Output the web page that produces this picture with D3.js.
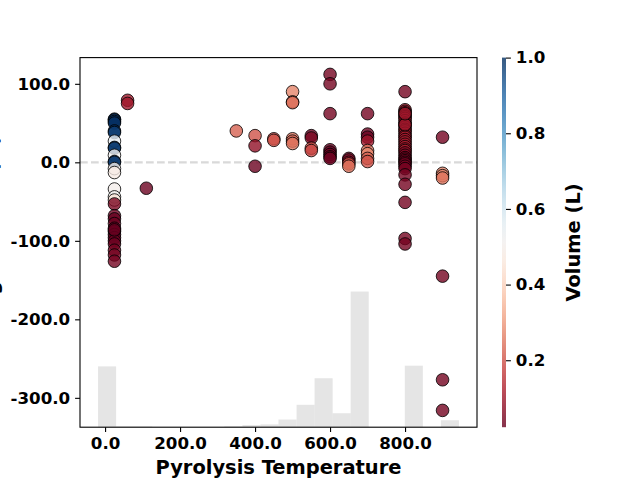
<!DOCTYPE html>
<html lang="en">
<head>
<meta charset="utf-8">
<title>Pyrolysis Temperature</title>
<script src="https://d3js.org/d3.v7.min.js"></script>
<style>
  body { margin: 0; background: #fff; }
  text { font-family: "DejaVu Sans", sans-serif; font-weight: bold; fill: #000; }
</style>
</head>
<body>
<div id="my_dataviz"></div>
<script>

// values
const temps = [
  25, 25, 25, 25, 25, 25, 25, 25, 25, 25, 25, 25, 25, 25, 25, 25, 25, 25, 25, 25, 25, 25, 25, 25, 25, 25, 25, 25, 25, 25, 25,
  60, 60, 110, 350, 400, 400, 400, 450, 450,
  500, 500, 500, 500, 500, 500,
  550, 550, 550, 550,
  600, 600, 600, 600, 600, 600, 600, 600,
  650, 650, 650, 650, 650,
  700, 700, 700, 700, 700, 700, 700, 700,
  800, 800, 800, 800, 800, 800, 800, 800, 800, 800, 800, 800, 800, 800, 800, 800, 800, 800, 800, 800, 800, 800,
  800, 800, 800, 800, 800, 800, 800, 800, 800, 800, 800, 800, 800, 800, 800, 800,
  900, 900, 900, 900, 900, 900, 900
];
const changes = [
  55, 54, 52, 50, 40, 38, 27, 19, 18, 9, 1, 0, -8, -13, -34, -44, -48, -53, -68, -72, -78, -84, -88, -92, -96, -100, -104, -112, -118, -126, -86,
  79, 75, -33, 40, 34, 21, -5, 30, 28,
  90, 77, 76, 30, 27, 24,
  34, 31, 18, 15,
  112, 100, 62, 16, 13, 10, 7, 5,
  5, 3, 0, -2, -5,
  62, 36, 32, 27, 15, 11, 5, 1,
  90, 67, 65, 63, 60, 58, 56, 53, 50, 48, 45, 42, 40, 37, 34, 32, 29, 26, 23, 20, 17, 15,
  12, 9, 6, 4, 2, 0, -2, -5, -8, -16, -28, -51, -97, -104, 48, 62,
  32, -14, -17, -20, -145, -277, -316
];
const volumes = [
  1.0, 1.0, 1.0, 1.0, 1.0, 0.98, 0.55, 1.0, 0.98, 0.52, 1.0, 0.98, 0.5, 0.48, 0.5, 0.52, 0.45, 0.05, 0.03, 0.023, 0.03, 0.023, 0.03, 0.023, 0.03, 0.023, 0.03, 0.04, 0.04, 0.04, 0.023,
  0.1, 0.1, 0.03, 0.22, 0.2, 0.08, 0.03, 0.18, 0.2,
  0.27, 0.24, 0.24, 0.25, 0.22, 0.25,
  0.03, 0.05, 0.2, 0.18,
  0.04, 0.04, 0.04, 0.03, 0.023, 0.03, 0.023, 0.03,
  0.04, 0.05, 0.1, 0.2, 0.25,
  0.04, 0.03, 0.03, 0.1, 0.25, 0.27, 0.22, 0.2,
  0.04, 0.11, 0.1, 0.11, 0.1, 0.11, 0.1, 0.11, 0.1, 0.11, 0.1, 0.11, 0.1, 0.11, 0.1, 0.11, 0.1, 0.11, 0.1, 0.11, 0.1, 0.11,
  0.06, 0.05, 0.04, 0.05, 0.04, 0.04, 0.04, 0.04, 0.04, 0.04, 0.04, 0.04, 0.04, 0.04, 0.1, 0.1,
  0.04, 0.27, 0.27, 0.25, 0.04, 0.04, 0.04
];
// 20 bins over the padded temperature range
const histCounts = [87, 1, 1, 0, 0, 0, 0, 1, 3, 4, 11, 32, 70, 20, 194, 0, 0, 88, 0, 10];

const xTicks = [0, 200, 400, 600, 800];
const yTicks = [100, 0, -100, -200, -300];
const cbarTicks = [0.2, 0.4, 0.6, 0.8, 1.0];

const xLabel = "Pyrolysis Temperature";
const yLabel = "Change in Yield (%)";
const cbarLabel = "Volume (L)";

// set the dimensions and margins of the graph
const margin = {top: 57.6, right: 163, bottom: 52.8, left: 80},
    width = 640 - margin.left - margin.right,
    height = 480 - margin.top - margin.bottom;

const svg = d3.select("#my_dataviz")
  .append("svg")
    .attr("width", 640)
    .attr("height", 480)
  .append("g")
    .attr("transform", `translate(${margin.left},${margin.top})`);

const pad = (lo, hi) => [lo - (hi - lo) * 0.05, hi + (hi - lo) * 0.05];

// histogram range = scatter xlim, final xlim padded again
const histRange = pad(d3.min(temps), d3.max(temps));
const binW = (histRange[1] - histRange[0]) / histCounts.length;

const x = d3.scaleLinear()
  .domain(pad(histRange[0], histRange[1]))
  .range([0, width]);

const y = d3.scaleLinear()
  .domain(pad(d3.min(changes), d3.max(changes)))
  .range([height, 0]);

const hy = d3.scaleLinear()
  .domain([0, d3.max(histCounts)])
  .range([0, height * 0.367]);

const vExtent = d3.extent(volumes);
const color = d3.scaleSequential(d3.interpolateRdBu).domain(vExtent);

// histogram in the background
svg.selectAll(".bar")
  .data(histCounts.map((c, i) => ({c, i})).filter(d => d.c > 0))
  .join("rect")
    .attr("class", "bar")
    .attr("x", d => x(histRange[0] + d.i * binW))
    .attr("width", d => x(histRange[0] + (d.i + 1) * binW) - x(histRange[0] + d.i * binW))
    .attr("y", d => height - hy(d.c))
    .attr("height", d => hy(d.c))
    .attr("fill", "#d3d3d3")
    .attr("fill-opacity", 0.6);

// zero line
svg.append("line")
  .attr("x1", 0).attr("x2", width)
  .attr("y1", y(0)).attr("y2", y(0))
  .attr("stroke", "gray")
  .attr("stroke-opacity", 0.3)
  .attr("stroke-width", 2.1)
  .attr("stroke-dasharray", "7.7,3.3");

// points
svg.selectAll(".dot")
  .data(temps.map((t, i) => ({t, c: changes[i], v: volumes[i]})))
  .join("circle")
    .attr("class", "dot")
    .attr("cx", d => x(d.t))
    .attr("cy", d => y(d.c))
    .attr("r", 6.3)
    .attr("fill", d => color(d.v))
    .attr("fill-opacity", 0.8)
    .attr("stroke", "#000")
    .attr("stroke-opacity", 0.8)
    .attr("stroke-width", 1);

// axes
const fmt = d => d.toFixed(1);
const gx = svg.append("g")
  .attr("transform", `translate(0,${height})`)
  .call(d3.axisBottom(x).tickValues(xTicks).tickFormat(fmt).tickSize(4.9).tickPadding(4.9));
const gy = svg.append("g")
  .call(d3.axisLeft(y).tickValues(yTicks).tickFormat(fmt).tickSize(4.9).tickPadding(4.9));
[gx, gy].forEach(g => {
  g.select(".domain").remove();
  g.selectAll(".tick line").attr("stroke", "#000").attr("stroke-width", 1.1);
  g.selectAll(".tick text").style("font-size", "16.67px").attr("font-family", null);
});

// frame
svg.append("rect")
  .attr("width", width).attr("height", height)
  .attr("fill", "none").attr("stroke", "#000").attr("stroke-width", 1.1);

// axis labels
svg.append("text")
  .attr("x", width / 2)
  .attr("y", height + 47.3)
  .attr("text-anchor", "middle")
  .style("font-size", "19.44px")
  .text(xLabel);

svg.append("text")
  .attr("transform", `translate(${-margin.left - 1.6},${height / 2}) rotate(-90)`)
  .attr("text-anchor", "middle")
  .style("font-size", "19.44px")
  .text(yLabel);

// colorbar
const cbX = width + 25, cbW = 4;
const cy = d3.scaleLinear().domain(vExtent).range([height, 0]);
const grad = svg.append("defs").append("linearGradient")
  .attr("id", "cbar").attr("x1", 0).attr("y1", 1).attr("x2", 0).attr("y2", 0);
d3.range(0, 1.0001, 0.05).forEach(t => {
  grad.append("stop").attr("offset", t).attr("stop-color", d3.interpolateRdBu(t));
});
svg.append("rect")
  .attr("x", cbX).attr("y", 0)
  .attr("width", cbW).attr("height", height)
  .attr("fill", "url(#cbar)")
  .attr("fill-opacity", 0.8);

const gc = svg.append("g")
  .attr("transform", `translate(${cbX + cbW},0)`)
  .call(d3.axisRight(cy).tickValues(cbarTicks).tickFormat(fmt).tickSize(4.9).tickPadding(4.9));
gc.select(".domain").remove();
gc.selectAll(".tick line").attr("stroke", "#000").attr("stroke-width", 1.1);
gc.selectAll(".tick text").style("font-size", "16.67px").attr("font-family", null);

svg.append("text")
  .attr("transform", `translate(${579.5 - margin.left},${height / 2}) rotate(-90)`)
  .attr("text-anchor", "middle")
  .style("font-size", "19.44px")
  .text(cbarLabel);

</script>
</body>
</html>
